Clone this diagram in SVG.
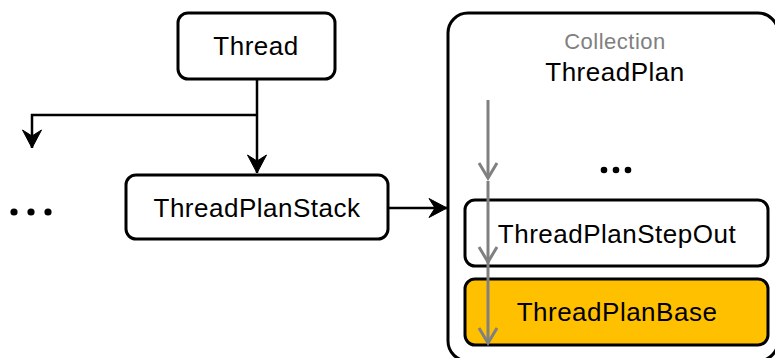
<svg xmlns="http://www.w3.org/2000/svg" width="775" height="358" viewBox="0 0 775 358">
<style>
.box{fill:#fff;stroke:#000;stroke-width:3}
.t{font-family:"Liberation Sans",Arial,sans-serif;font-size:26px;fill:#000;text-anchor:middle;letter-spacing:0.5px}
.c{stroke:#000;stroke-width:2.5;fill:none}
.g{stroke:#808080;stroke-width:3;fill:none}
</style>
<defs>
<marker id="ab" markerWidth="22" markerHeight="22" refX="19" refY="10" orient="auto" markerUnits="userSpaceOnUse">
<path d="M19,10 L1,0.5 L7,10 L1,19.5 Z" fill="#000" stroke="#000" stroke-width="1" stroke-linejoin="miter"/>
</marker>
<marker id="ag" markerWidth="20" markerHeight="22" refX="16" refY="10" orient="auto" markerUnits="userSpaceOnUse">
<path d="M1,1 L16,10 L1,19" fill="none" stroke="#808080" stroke-width="3"/>
</marker>
</defs>
<g id="collection">
<rect x="448" y="13" width="330" height="348" rx="20" class="box"/>
<text x="615" y="49" class="t" style="font-size:22px;fill:#808080">Collection</text>
<text x="615" y="81" class="t">ThreadPlan</text>
<circle cx="604" cy="170" r="3.3"/><circle cx="616" cy="170" r="3.3"/><circle cx="628" cy="170" r="3.3"/>
</g>
<g id="thread">
<rect x="178" y="13" width="157" height="66" rx="10" class="box"/>
<text x="256" y="55" class="t">Thread</text>
</g>
<g id="threadplanstack">
<rect x="126" y="175" width="262" height="64" rx="10" class="box"/>
<text x="257" y="217" class="t">ThreadPlanStack</text>
</g>
<g id="dots">
<circle cx="14" cy="212" r="3.6"/><circle cx="31" cy="212" r="3.6"/><circle cx="48" cy="212" r="3.6"/>
</g>
<g id="threadplanstepout">
<rect x="465" y="200" width="303" height="66" rx="10" class="box"/>
<text x="617" y="243" class="t">ThreadPlanStepOut</text>
</g>
<g id="threadplanbase">
<rect x="465" y="279" width="303" height="66" rx="10" class="box" style="fill:#FFC000"/>
<text x="617" y="321" class="t">ThreadPlanBase</text>
</g>
<g id="connectors">
<path d="M257,79 L257,173" class="c" marker-end="url(#ab)"/>
<path d="M257,115 L32,115 L32,148" class="c" marker-end="url(#ab)"/>
<path d="M388,208 L447,208" class="c" marker-end="url(#ab)"/>
<path d="M488,100 L488,178" class="g" marker-end="url(#ag)"/>
<path d="M488,181 L488,262" class="g" marker-end="url(#ag)"/>
<path d="M488,262 L488,343" class="g" marker-end="url(#ag)"/>
</g>
</svg>
